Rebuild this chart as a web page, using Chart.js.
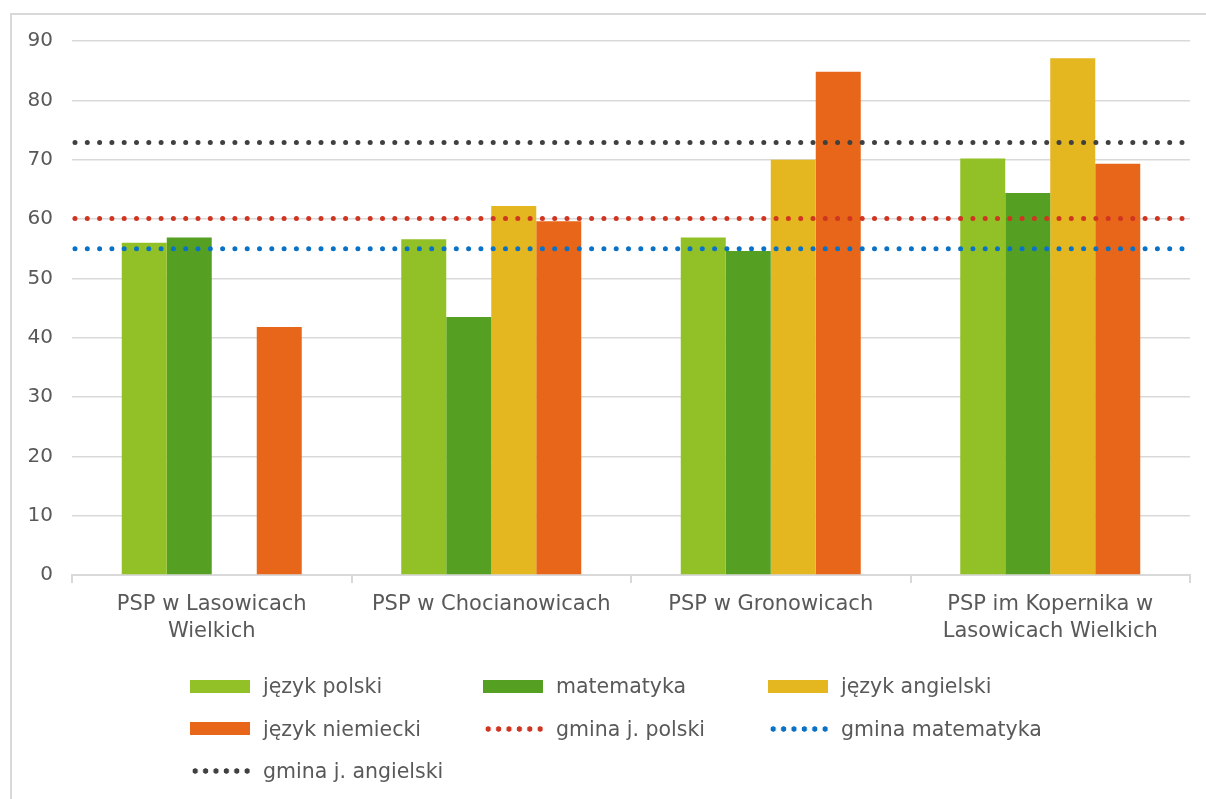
<!DOCTYPE html>
<html>
<head>
<meta charset="utf-8">
<script src="https://cdn.jsdelivr.net/npm/chart.js@4"></script>
<style>
  html, body { margin: 0; padding: 0; background: #fff; overflow: hidden; }
  body { width: 1206px; height: 799px; position: relative; font-family: 'DejaVu Sans', sans-serif; }
  #frame { position: absolute; left: 10px; top: 13px; width: 1400px; height: 1000px; border: 2px solid #d9d9d9; box-sizing: border-box; }
  #wrap { position: absolute; left: 0; top: 0; width: 1206px; height: 799px; }
  #legend { position: absolute; left: 190px; top: 665px; display: grid; grid-template-columns: 293px 285px 300px; grid-auto-rows: 42.5px; color: #595959; font-size: 20.5px; }
  .item { display: flex; align-items: center; white-space: nowrap; }
  .sym { width: 60px; height: 13px; margin-right: 13px; flex: none; }
</style>
</head>
<body>
<div id="frame"></div>
<div id="wrap"><canvas id="chart" width="1206" height="799"></canvas></div>
<div id="legend"></div>
<script>
// Wyniki egzaminu wg szkół
const schools = [
  ['PSP w Lasowicach', 'Wielkich'],
  ['PSP w Chocianowicach'],
  ['PSP w Gronowicach'],
  ['PSP im Kopernika w', 'Lasowicach Wielkich']
];
const jezykPolski = [56.0, 56.6, 56.9, 70.2];
const matematyka = [56.9, 43.5, 54.6, 64.4];
const jezykAngielski = [null, 62.2, 70.0, 87.1];
const jezykNiemiecki = [41.8, 59.6, 84.8, 69.3];

// średnie gminy (linie kropkowane)
const gminaLabels = ['gmina j. polski', 'gmina matematyka', 'gmina j. angielski'];
const gminaValues = [60.1, 55.0, 72.9];
const gminaColors = ['#cf3520', '#0a72c6', '#404040'];

const yTicks = [0, 10, 20, 30, 40, 50, 60, 70, 80, 90];

const textColor = '#595959';
const gridColor = '#d9d9d9';
const fontFamily = "'DejaVu Sans', sans-serif";

function barSet(label, data, color) {
  return {
    label: label,
    data: data,
    backgroundColor: color,
    borderWidth: 0,
    barPercentage: 1,
    categoryPercentage: 0.644
  };
}

const datasets = [
  barSet('język polski', jezykPolski, '#92c127'),
  barSet('matematyka', matematyka, '#55a022'),
  barSet('język angielski', jezykAngielski, '#e4b61f'),
  barSet('język niemiecki', jezykNiemiecki, '#e8661a')
];

// kropkowane linie średnich gminy, rysowane przez skalę y na całą szerokość
const averageLines = {
  id: 'averageLines',
  afterDatasetsDraw: function(chart) {
    const ctx = chart.ctx;
    const area = chart.chartArea;
    const y = chart.scales.y;
    ctx.save();
    ctx.lineWidth = 5;
    ctx.lineCap = 'round';
    ctx.setLineDash([0, 12.3]);
    gminaValues.forEach(function(v, i) {
      const py = y.getPixelForValue(v);
      ctx.strokeStyle = gminaColors[i];
      ctx.beginPath();
      ctx.moveTo(area.left + 3, py);
      ctx.lineTo(area.right, py);
      ctx.stroke();
    });
    ctx.restore();
  }
};

const chart = new Chart(document.getElementById('chart'), {
  type: 'bar',
  data: { labels: schools, datasets: datasets },
  plugins: [averageLines],
  options: {
    responsive: false,
    animation: false,
    layout: { padding: { left: 0, top: 41, right: 16, bottom: 0 } },
    plugins: { legend: { display: false }, tooltip: { enabled: false } },
    scales: {
      x: {
        offset: true,
        grid: { offset: true, drawOnChartArea: false, drawTicks: true, tickLength: 8, color: gridColor, lineWidth: 2 },
        border: { display: true, color: gridColor, width: 2 },
        ticks: { color: textColor, font: { family: fontFamily, size: 21, lineHeight: 1.3 }, maxRotation: 0, autoSkip: false, padding: 8 },
        afterFit: function(scale) { scale.height = 799 - 575; }
      },
      y: {
        min: 0,
        max: 90,
        afterBuildTicks: function(scale) { scale.ticks = yTicks.map(v => ({ value: v })); },
        grid: { color: gridColor, lineWidth: 1.5, drawTicks: false },
        border: { display: false },
        ticks: { color: textColor, font: { family: fontFamily, size: 20 }, padding: 19 },
        afterFit: function(scale) { scale.width = 72; }
      }
    }
  }
});

// legenda w układzie 3 kolumn
const legend = document.getElementById('legend');
function addItem(label, color, dotted) {
  const item = document.createElement('div');
  item.className = 'item';
  const sym = document.createElement('span');
  sym.className = 'sym';
  if (!dotted) {
    sym.style.background = color;
  } else {
    sym.style.height = '6px';
    sym.style.background = 'radial-gradient(circle, ' + color + ' 2.4px, transparent 3px) 0 0 / 10.4px 6px repeat-x';
  }
  const txt = document.createElement('span');
  txt.textContent = label;
  item.appendChild(sym);
  item.appendChild(txt);
  legend.appendChild(item);
}
chart.data.datasets.forEach(function(ds) { addItem(ds.label, ds.backgroundColor, false); });
gminaLabels.forEach(function(label, i) { addItem(label, gminaColors[i], true); });
</script>
</body>
</html>
